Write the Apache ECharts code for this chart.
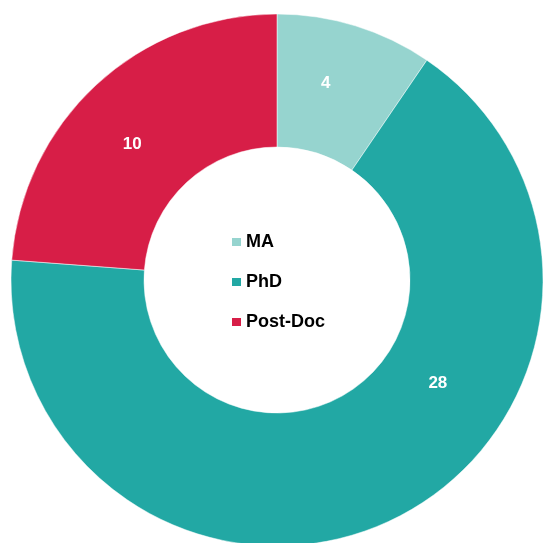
<!DOCTYPE html>
<html><head><meta charset="utf-8">
<script src="https://cdn.jsdelivr.net/npm/echarts@6/dist/echarts.min.js"></script>
<style>html,body{margin:0;padding:0;background:#fff}#c{width:543px;height:543px}</style>
</head><body><div id="c"></div>
<script>
var categories = ['MA', 'PhD', 'Post-Doc'];
var values = [4, 28, 10];
var colors = ['#96D4CF', '#22A8A4', '#D71E47'];
var labelShift = [[-11, -3], [73, -79], [-7, 13]];

var chart = echarts.init(document.getElementById('c'));
chart.setOption({
  animation: false,
  color: colors,
  legend: {
    orient: 'vertical',
    left: 225, top: 228,
    itemWidth: 11, itemHeight: 10, itemGap: 22,
    icon: 'rect',
    textStyle: { fontFamily: 'Liberation Sans, Arial, sans-serif', fontWeight: 'bold', fontSize: 18, color: '#000', padding: [0, 0, 0, -1] },
    data: categories
  },
  series: [{
    type: 'pie',
    center: [277, 280],
    radius: [133, 266],
    startAngle: 90,
    clockwise: true,
    itemStyle: { borderColor: '#fff', borderWidth: 0.5 },
    label: { show: true, position: 'inside', formatter: '{c}', color: '#fff', fontWeight: 'bold', fontSize: 17, fontFamily: 'Liberation Sans, Arial, sans-serif' },
    labelLine: { show: false },
    labelLayout: function (p) { return { dx: labelShift[p.dataIndex][0], dy: labelShift[p.dataIndex][1] }; },
    emphasis: { disabled: true },
    data: categories.map(function (c, i) { return { name: c, value: values[i] }; })
  }]
});
</script></body></html>
